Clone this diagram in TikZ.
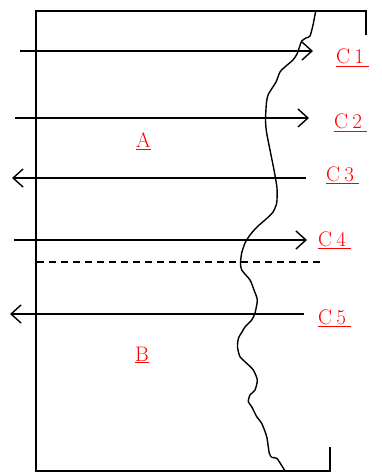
\documentclass[tikz,border=0pt]{standalone}
\usetikzlibrary{arrows.meta}
\newcommand{\lab}[1]{\underline{C\kern0.2em#1\kern0.25em}}
\begin{document}
\begin{tikzpicture}[x=1pt,y=-1pt,
  frame/.style={line width=1.6pt},
  arr/.style={line width=1.4pt, -{Straight Barb[length=10pt,width=18pt,line width=1.4pt]}},
  dashln/.style={line width=1.4pt, dash pattern=on 7pt off 5pt},
  curve/.style={line width=1.4pt, line join=round},
  lbl/.style={text=red, font=\fontsize{21}{25}\selectfont, anchor=base west, inner sep=0pt},
]
\useasboundingbox (0,0) rectangle (382,473);
% frame
\draw[frame] (366,35) -- (366,11) -- (36,11) -- (36,471) -- (330,471) -- (330,447);
% arrows
\coordinate (c1s) at (20,51);   \coordinate (c1e) at (313,51);
\coordinate (c2s) at (15,118);  \coordinate (c2e) at (309,118);
\coordinate (c3s) at (306,178); \coordinate (c3e) at (12,178);
\coordinate (c4s) at (14,240);  \coordinate (c4e) at (307,240);
\coordinate (c5s) at (304,314); \coordinate (c5e) at (10,314);
\draw[arr] (c1s) -- (c1e);
\draw[arr] (c2s) -- (c2e);
\draw[arr] (c3s) -- (c3e);
\draw[arr] (c4s) -- (c4e);
\draw[arr] (c5s) -- (c5e);
% dashed line
\coordinate (d1) at (37,262); \coordinate (d2) at (322,262);
\draw[dashln] (d1) -- (d2);
% boundary curve
\draw[curve] plot[smooth, tension=0.4] coordinates {
(315.7,11) (313,25) (310,36) (306,38) (301.7,41) (299.5,47) (297,54) (293,60)
(286,66) (280,72) (276,82) (268.5,94) (266.5,102) (265.5,120) (266.5,132)
(270,150) (274,170) (277,188) (276.7,203) (273,212) (266.7,218.5) (257,227)
(250,235) (245,243) (241.7,253) (240.5,263) (241.7,270) (250,280) (254,290)
(257.3,300) (255,313) (251.7,320) (245,327) (242,332) (238.5,338) (237.5,347)
(240,356.7) (246.7,363.3) (253.3,370) (257.3,380) (255,390) (250,395)
(248.3,401.7) (251.7,406.7) (256.7,416.7) (261.7,423.3) (266.7,436.7)
(269.3,453.3) (272,457.5) (277,458.5) (285,471)};
% labels
\node[lbl] (l1) at (336,64)  {\lab{1}};
\node[lbl] (l2) at (334,129) {\lab{2}};
\node[lbl] (l3) at (326,181) {\lab{3}};
\node[lbl] (l4) at (318,246) {\lab{4}};
\node[lbl] (l5) at (318,324) {\lab{5}};
\node[lbl] (la) at (136,148) {\underline{A}};
\node[lbl] (lb) at (135,361) {\underline{B}};
\end{tikzpicture}
\end{document}
